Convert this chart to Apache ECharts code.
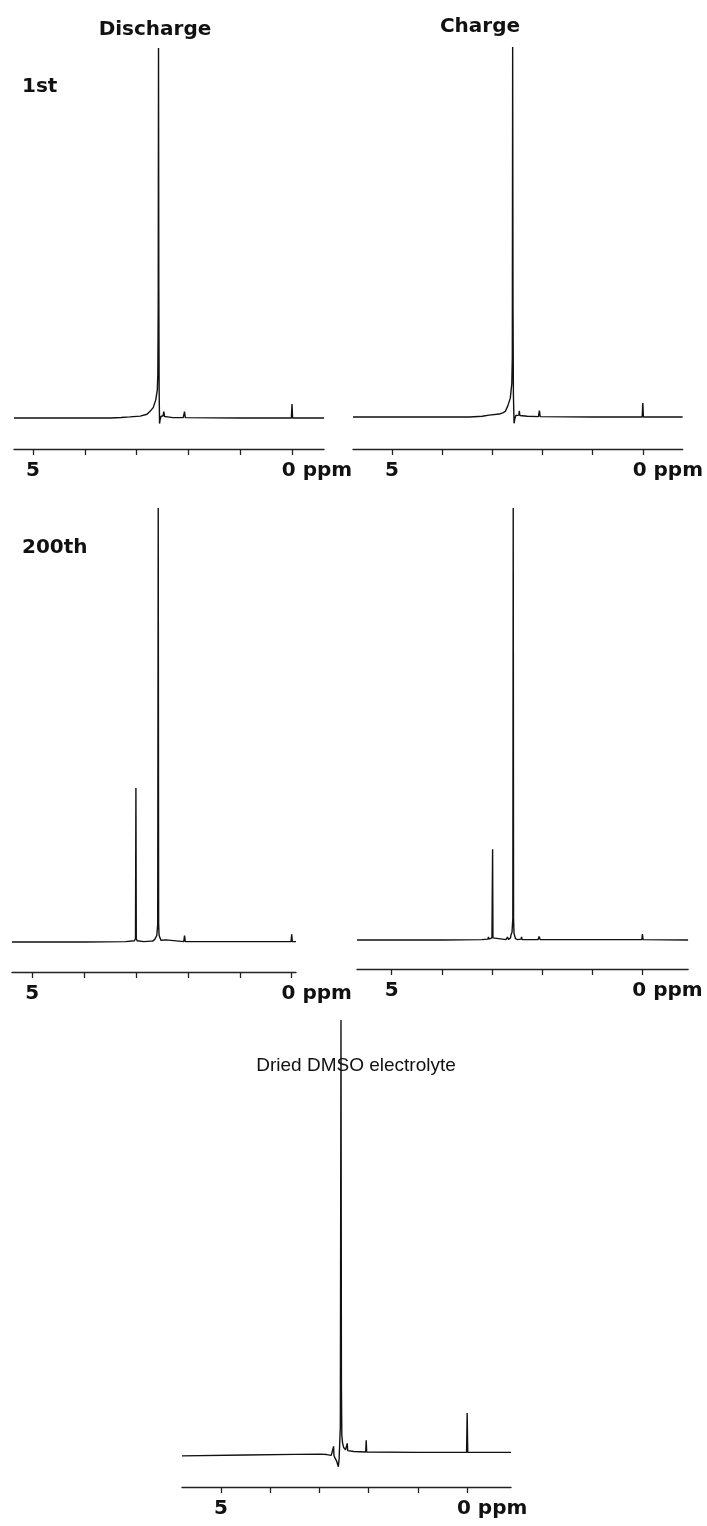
<!DOCTYPE html>
<html><head><meta charset="utf-8">
<script src="https://cdn.jsdelivr.net/npm/echarts@6/dist/echarts.min.js"></script>
<style>html,body{margin:0;padding:0;background:#fff}#c{width:707px;height:1526px}</style>
</head><body><div id="c"></div>
<script>
// ---- data (chemical shift in ppm, relative intensity; main peak = 100) ----
const tickPpm = [0, 1, 2, 3, 4, 5];
const labelPpm = [0, 5];
const columnTitles = ['Discharge', 'Charge'];
const rowTitles = ['1st', '200th'];
const bottomTitle = 'Dried DMSO electrolyte';

const discharge1st = [[5.367,0],[3.50,0],[3.30,0.15],[3.13,0.3],[2.93,0.5],[2.80,1.0],[2.74,1.8],[2.71,2.3],[2.68,2.8],[2.66,3.3],[2.63,4.9],[2.60,7.6],[2.59,12],[2.583,30],[2.577,100],[2.571,35],[2.565,8],[2.557,-1.5],[2.548,-0.6],[2.53,0.4],[2.49,0.6],[2.475,1.7],[2.46,0.4],[2.40,0.3],[2.30,0.1],[2.10,0.1],[2.075,1.7],[2.06,0.1],[1.0,0],[0.012,0],[0,3.8],[-0.012,0],[-0.618,0]];
const charge1st = [[5.774,0],[3.45,0],[3.2,0.2],[3.06,0.5],[2.86,0.8],[2.78,1.2],[2.76,1.7],[2.74,1.5],[2.69,3.0],[2.64,5.1],[2.61,9],[2.60,16],[2.593,100],[2.586,30],[2.578,6],[2.565,-1.7],[2.55,-0.5],[2.53,0.4],[2.47,0.5],[2.46,1.7],[2.45,0.4],[2.3,0.2],[2.08,0.1],[2.06,1.7],[2.045,0.1],[1.0,0],[0.012,0],[0,3.8],[-0.012,0],[-0.794,0]];
const discharge200th = [[5.39,0],[4.0,0],[3.2,0.1],[3.03,0.3],[3.01,0.8],[3.002,35.5],[2.995,0.8],[2.98,0.3],[2.85,0.1],[2.72,0.2],[2.70,0.5],[2.68,0.2],[2.64,0.6],[2.60,1.5],[2.582,4],[2.572,100],[2.564,4],[2.555,1.5],[2.52,0.4],[2.42,0.5],[2.40,0.1],[2.08,0.1],[2.065,1.5],[2.05,0.1],[1.0,0.1],[0.012,0.1],[0,1.8],[-0.012,0.1],[-0.083,0.1]];
const charge200th = [[5.69,0],[4,0],[3.2,0.1],[3.08,0.2],[3.07,0.7],[3.06,0.2],[3.00,0.5],[2.987,21],[2.98,0.5],[2.95,0.1],[2.72,0.1],[2.69,0.7],[2.67,0.1],[2.63,0.5],[2.62,1.2],[2.60,1.8],[2.584,5],[2.576,100],[2.569,5],[2.56,1.5],[2.53,0.3],[2.51,0.7],[2.49,0.1],[2.42,0.2],[2.41,0.7],[2.40,0.1],[2.08,0.1],[2.06,0.8],[2.04,0.1],[0.012,0.1],[0,1.4],[-0.012,0.1],[-0.91,0]];
const driedDMSO = [[5.79,-0.8],[4.5,-0.6],[3.5,-0.45],[3.0,-0.4],[2.85,-0.5],[2.76,-0.7],[2.72,-0.6],[2.712,1.4],[2.705,-0.7],[2.68,-1.4],[2.65,-2.0],[2.63,-2.8],[2.615,-3.3],[2.60,-1.5],[2.575,6],[2.562,100],[2.553,15],[2.545,4],[2.53,2.2],[2.51,1.2],[2.47,0.6],[2.435,2.1],[2.425,0.4],[2.3,0.2],[2.06,0.1],[2.05,2.8],[2.04,0.1],[1.0,0],[0.012,0],[0,9.1],[-0.012,0],[-0.89,0]];

// ---- layout ----
const panels = [
  { data: discharge1st,   grid: {left: 14,  top: 48,   width: 310, height: 401}, x: [-0.618, 5.367], y: [-8.38, 100] },
  { data: charge1st,      grid: {left: 353, top: 47,   width: 331, height: 402}, x: [-0.794, 5.774], y: [-8.65, 100] },
  { data: discharge200th, grid: {left: 12,  top: 508,  width: 284, height: 464}, x: [-0.083, 5.39],  y: [-6.91, 100] },
  { data: charge200th,    grid: {left: 357, top: 508,  width: 333, height: 461}, x: [-0.91, 5.69],   y: [-6.71, 100] },
  { data: driedDMSO,      grid: {left: 182, top: 1020, width: 329, height: 467}, x: [-0.89, 5.79],   y: [-8.0, 100] }
];

const boldFont = 'DejaVu Sans';
const ink = '#111';

const option = {
  animation: false,
  backgroundColor: '#fff',
  grid: panels.map(p => Object.assign({containLabel: false}, p.grid)),
  xAxis: panels.map((p, i) => ({
    type: 'value', gridIndex: i, inverse: true, min: p.x[0], max: p.x[1],
    splitLine: {show: false},
    axisLine: {show: true, onZero: false, lineStyle: {color: '#222', width: 1.4}},
    axisTick: {show: true, customValues: tickPpm, length: 6, inside: false, lineStyle: {color: '#222', width: 1.3}},
    axisLabel: {
      show: true, customValues: labelPpm, margin: 12, color: ink,
      fontFamily: boldFont, fontWeight: 'bold', fontSize: 20,
      formatter: v => v === 0 ? '{z|0 ppm}' : '{f|' + v + '}',
      rich: {
        z: {fontFamily: boldFont, fontWeight: 'bold', fontSize: 20, color: ink, padding: [0, 0, 0, 50]},
        f: {fontFamily: boldFont, fontWeight: 'bold', fontSize: 20, color: ink}
      }
    }
  })),
  yAxis: panels.map((p, i) => ({type: 'value', gridIndex: i, min: p.y[0], max: p.y[1], show: false})),
  series: panels.map((p, i) => ({
    type: 'line', xAxisIndex: i, yAxisIndex: i, data: p.data,
    showSymbol: false, symbol: 'none', smooth: false,
    lineStyle: {color: ink, width: 1.4}
  })),
  graphic: [
    {type: 'text', x: 155, y: 30, style: {text: columnTitles[0], font: 'bold 20px "DejaVu Sans"', fill: ink, align: 'center', verticalAlign: 'middle'}},
    {type: 'text', x: 480, y: 27, style: {text: columnTitles[1], font: 'bold 20px "DejaVu Sans"', fill: ink, align: 'center', verticalAlign: 'middle'}},
    {type: 'text', x: 22, y: 87, style: {text: rowTitles[0], font: 'bold 20px "DejaVu Sans"', fill: ink, align: 'left', verticalAlign: 'middle'}},
    {type: 'text', x: 22, y: 548, style: {text: rowTitles[1], font: 'bold 20px "DejaVu Sans"', fill: ink, align: 'left', verticalAlign: 'middle'}},
    {type: 'text', x: 356, y: 1066, style: {text: bottomTitle, font: '19px "Liberation Sans"', fill: ink, align: 'center', verticalAlign: 'middle'}}
  ]
};

const chart = echarts.init(document.getElementById('c'), null, {renderer: 'canvas'});
chart.setOption(option);
</script>
</body></html>
